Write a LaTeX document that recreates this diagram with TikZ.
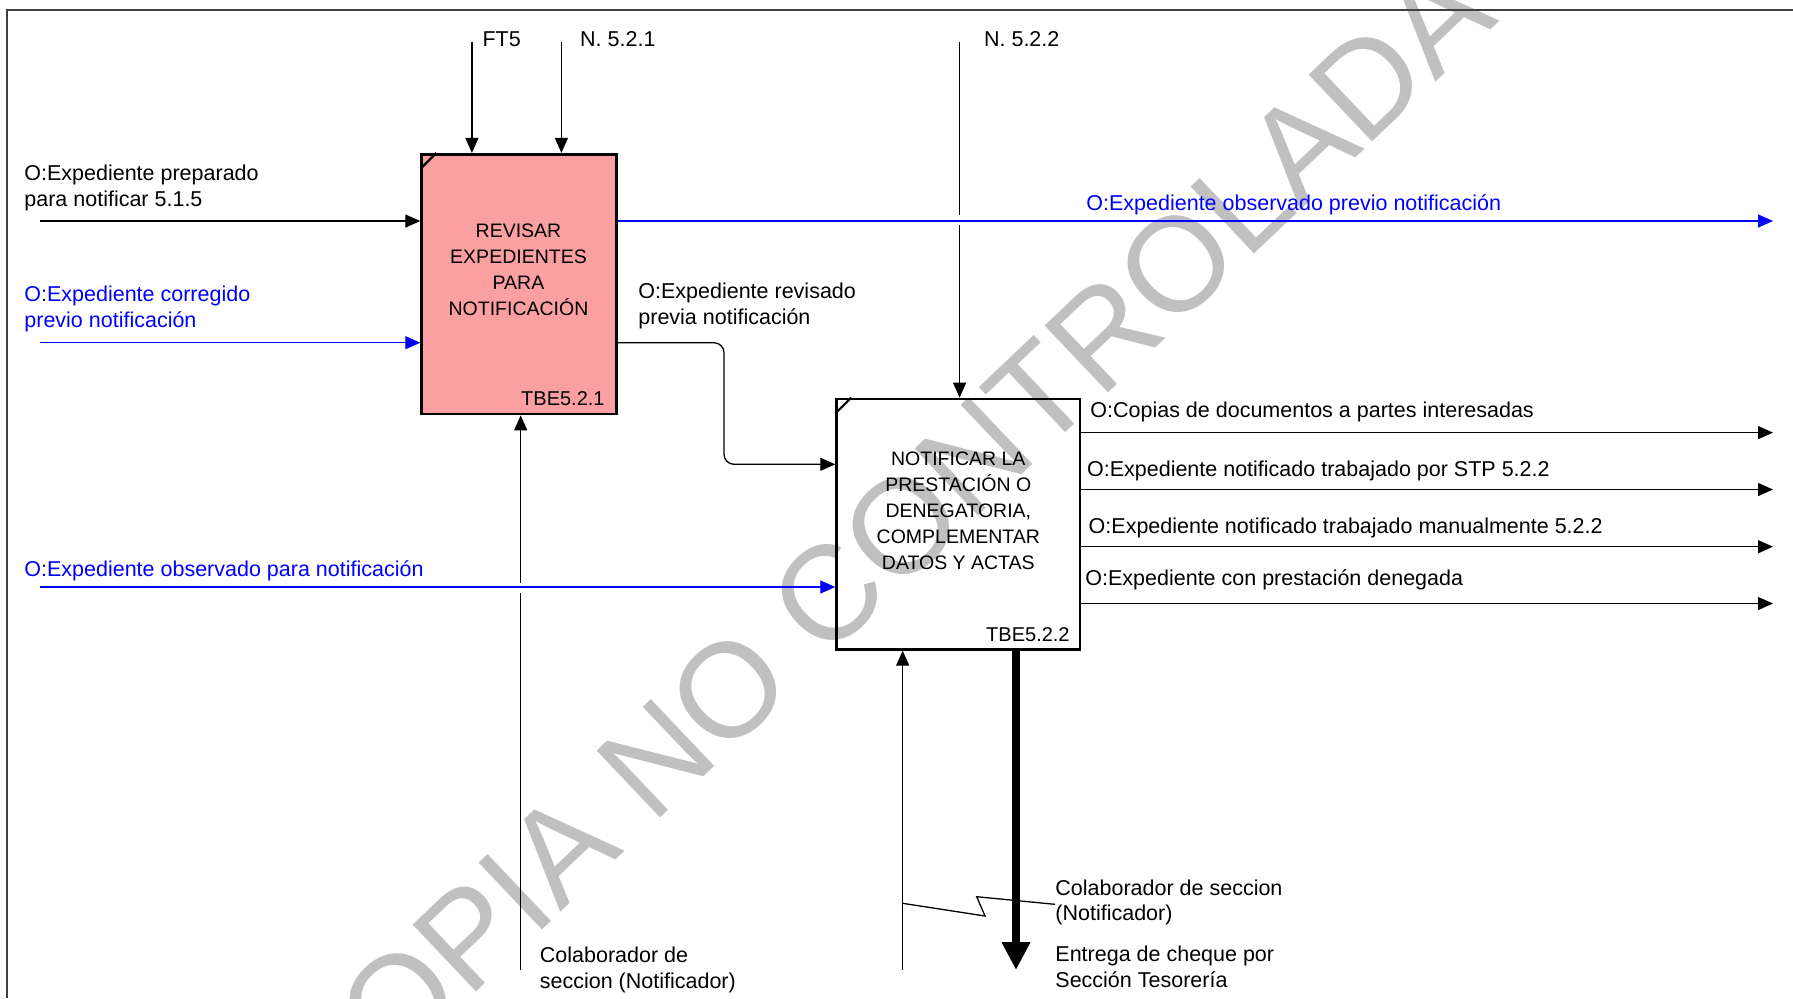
\documentclass[tikz,border=0pt]{standalone}
\usepackage{fontspec}
\setmainfont{Liberation Sans}
\usetikzlibrary{arrows.meta}
\definecolor{boxpink}{RGB}{250,160,160}
\definecolor{wmgray}{RGB}{192,192,192}
\definecolor{flowblue}{RGB}{0,0,255}
\begin{document}
\begin{tikzpicture}[x=0.5pt,y=-0.5pt,
  lbl/.style={font=\fontsize{10.75}{12.9}\selectfont, inner sep=0pt, align=left},
  bluelbl/.style={lbl, text=flowblue},
  boxtxt/.style={font=\fontsize{9.75}{13}\selectfont, inner sep=0pt, align=center},
  tbe/.style={font=\fontsize{10}{12}\selectfont, inner sep=0pt, anchor=base east},
  actbox/.style={draw=black, line width=1.4pt, inner sep=0pt, rectangle},
  tick/.style={line width=1.1pt},
  flow/.style={line width=0.65pt, -{Triangle[length=7.5pt,width=6.5pt]}},
  plain/.style={line width=0.65pt},
  blueflow/.style={flow, draw=flowblue, -{Triangle[length=7.5pt,width=6.5pt,fill=flowblue]}},
  bigflow/.style={line width=4pt, -{Triangle[length=14pt,width=13.5pt]}},
  frame/.style={draw=black!75, line width=1pt},
  wmark/.style={font=\fontsize{67}{67}\selectfont, text=wmgray, inner sep=0pt}
]
\useasboundingbox (0,0) rectangle (1793,998);

% watermark
\node[wmark, rotate=43.5] (wm) at (879.6,546.1) {COPIA NO CONTROLADA};

% frame
\draw[frame] (7,998) -- (7,9.5) -- (1793,9.5);

% activity boxes
\node[actbox, fill=boxpink, minimum width=97.5pt, minimum height=129.85pt] (b1) at (519.2,284.15) {};
\node[actbox, minimum width=121.65pt, minimum height=125.15pt] (b2) at (958.35,524.15) {};
\draw[tick] ([yshift=-8pt]b1.north west) -- ([xshift=8pt]b1.north west);
\draw[tick] ([yshift=-8pt]b2.north west) -- ([xshift=8pt]b2.north west);

\node[boxtxt, anchor=north] (t1) at (518.5,223) {REVISAR\\EXPEDIENTES\\PARA\\NOTIFICACIÓN};
\node[boxtxt, anchor=north] (t2) at (958.3,451.7) {NOTIFICAR LA\\PRESTACIÓN O\\DENEGATORIA,\\COMPLEMENTAR\\DATOS Y ACTAS};
\node[tbe] (id1) at (605,405) {TBE5.2.1};
\node[tbe] (id2) at (1070,641.5) {TBE5.2.2};

% free ends
\coordinate (ft5) at (471.9,41.7);
\coordinate (n521) at (561.4,41.7);
\coordinate (n522) at (959.6,41.7);
\coordinate (n522a) at (959.6,215);
\coordinate (n522b) at (959.6,225);
\coordinate (in1) at (40,221);
\coordinate (in2) at (40,342.7);
\coordinate (in3) at (40,587);
\coordinate (out0) at (1773,221);
\coordinate (rv1) at (724,342.7);
\coordinate (rv2) at (724,464.3);
\coordinate (o1) at (1773,432.6);
\coordinate (o2) at (1773,489.5);
\coordinate (o3) at (1773,546.7);
\coordinate (o4) at (1773,603.5);
\coordinate (m1) at (520.7,970);
\coordinate (m1a) at (520.7,593);
\coordinate (m1b) at (520.7,583);
\coordinate (m2) at (902.7,970);
\coordinate (chq) at (1016,970);
\coordinate (z0) at (902.7,903.3);
\coordinate (z1) at (985,916);
\coordinate (z2) at (976.7,896.7);
\coordinate (z3) at (1055,904.3);

% controls
\draw[flow] (ft5) -- (ft5 |- b1.north);
\draw[flow] (n521) -- (n521 |- b1.north);
\draw[plain] (n522) -- (n522a);
\draw[flow] (n522b) -- (n522b |- b2.north);

% inputs
\draw[flow] (in1) -- (in1 -| b1.west);
\draw[blueflow] (in2) -- (in2 -| b1.west);
\draw[blueflow] (in3) -- (in3 -| b2.west);

% outputs of b1
\draw[blueflow] (in1 -| b1.east) -- (out0);
\draw[flow, rounded corners=5pt] (in2 -| b1.east) -- (rv1) -- (rv2) -- (rv2 -| b2.west);

% outputs of b2
\draw[flow] (o1 -| b2.east) -- (o1);
\draw[flow] (o2 -| b2.east) -- (o2);
\draw[flow] (o3 -| b2.east) -- (o3);
\draw[flow] (o4 -| b2.east) -- (o4);

% mechanisms
\draw[plain] (m1) -- (m1a);
\draw[flow] (m1b) -- (m1b |- b1.south);
\draw[flow] (m2) -- (m2 |- b2.south);
\draw[plain] (z0) -- (z1) -- (z2) -- (z3);
\draw[bigflow] (chq |- b2.south) -- (chq);

% labels
\node[lbl, anchor=base west] (lft5) at (482.2,46.9) {FT5};
\node[lbl, anchor=base west] (ln521) at (579.8,46.9) {N. 5.2.1};
\node[lbl, anchor=base west] (ln522) at (983.7,46.9) {N. 5.2.2};
\node[lbl, anchor=north west] (lin1) at (24,164.4) {O:Expediente preparado\\para notificar 5.1.5};
\node[bluelbl, anchor=north west] (lin2) at (24,285.4) {O:Expediente corregido\\previo notificación};
\node[bluelbl, anchor=base west] (lin3) at (24,576) {O:Expediente observado para notificación};
\node[bluelbl, anchor=base west] (lout0) at (1086,210.6) {O:Expediente observado previo notificación};
\node[lbl, anchor=north west] (lrv) at (638,282.4) {O:Expediente revisado\\previa notificación};
\node[lbl, anchor=base west] (lo1) at (1090,417) {O:Copias de documentos a partes interesadas};
\node[lbl, anchor=base west] (lo2) at (1086.7,476.9) {O:Expediente notificado trabajado por STP 5.2.2};
\node[lbl, anchor=base west] (lo3) at (1088.3,533.6) {O:Expediente notificado trabajado manualmente 5.2.2};
\node[lbl, anchor=base west] (lo4) at (1085,585.9) {O:Expediente con prestación denegada};
\node[lbl, anchor=north west] (lm1) at (539.5,946.4) {Colaborador de\\seccion (Notificador)};
\node[lbl, anchor=north west] (lm2) at (1055,879.1) {Colaborador de seccion\\(Notificador)};
\node[lbl, anchor=north west] (lchq) at (1055,945.7) {Entrega de cheque por\\Sección Tesorería};
\end{tikzpicture}
\end{document}
